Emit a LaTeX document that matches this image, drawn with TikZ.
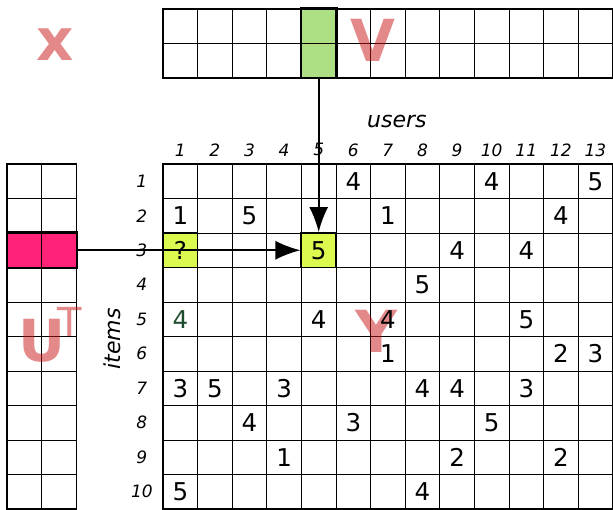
\documentclass[tikz,border=0pt]{standalone}
\usepackage{fontspec}
\setmainfont{DejaVu Sans}
\usetikzlibrary{arrows.meta}
\definecolor{pinkrow}{HTML}{FF2277}
\definecolor{greencol}{HTML}{ADDF85}
\definecolor{lime}{HTML}{DAFA4F}
\definecolor{letterred}{HTML}{C81414}
\definecolor{darkgreen}{HTML}{1E4A2E}
\tikzset{
  cellline/.style={line width=0.9pt, draw=black},
  frame/.style={line width=1.6pt, draw=black},
  rating/.style={font=\fontsize{24.5}{24.5}\selectfont, inner sep=0pt},
  index/.style={font=\fontsize{17}{17}\selectfont\itshape, inner sep=0pt},
  axis/.style={font=\fontsize{22}{22}\selectfont\itshape, inner sep=0pt},
  factor/.style={font=\fontsize{58}{58}\selectfont\bfseries, text=letterred, text opacity=0.5, inner sep=0pt},
  pick/.style={rating, draw=black, line width=1.8pt, fill=lime, minimum width=34.6pt, minimum height=34.5pt},
  arrow/.style={-{Latex[length=25pt,width=19pt]}, line width=2pt}
}
\begin{document}
\begin{tikzpicture}[x=34.6pt, y=-34.5pt]
\useasboundingbox (-4.711,-4.754) rectangle (13.006,10);
\clip (-4.711,-4.754) rectangle (13.006,10);

% factor matrix V (top)
\node[frame, fill=greencol, minimum width=34.6pt, minimum height=69pt, inner sep=0pt] (vcol) at (4.5,-3.5) {};
\foreach \i in {1,...,12} \draw[cellline] (\i,-4.5) -- (\i,-2.5);
\draw[cellline] (0,-3.5) -- (13,-3.5);
\draw[frame] (0,-4.5) rectangle (13,-2.5);
\draw[frame] (vcol.north west) rectangle (vcol.south east);

% factor matrix U^T (left)
\node[frame, fill=pinkrow, minimum width=69.2pt, minimum height=34.5pt, inner sep=0pt] (urow) at (-3.5,2.5) {};
\foreach \j in {1,...,9} \draw[cellline] (-4.5,\j) -- (-2.5,\j);
\draw[cellline] (-3.5,0) -- (-3.5,10);
\draw[frame] (-4.5,0) rectangle (-2.5,10);
\draw[frame] (urow.north west) rectangle (urow.south east);

% rating matrix Y
\foreach \i in {1,...,12} \draw[cellline] (\i,0) -- (\i,10);
\foreach \j in {1,...,9} \draw[cellline] (0,\j) -- (13,\j);
\draw[frame] (0,10) -- (0,0) -- (13,0) -- (13,10) -- cycle;

% indices
\foreach \c in {1,...,13} \node[index] (col\c) at (\c-0.5,-0.41) {\c};
\foreach \r in {1,...,10} \node[index] (row\r) at (-0.61,\r-0.5) {\r};
\node[axis] (users) at (6.76,-1.22) {users};
\node[axis, rotate=90] (items) at (-1.47,5.07) {items};

% big letters
\node[factor] (xlabel) at (-3.12,-3.45) {x};
\node[factor] (vlabel) at (6.08,-3.57) {V};
\node[factor] (ulabel) at (-3.5,5.12) {U};
\node[factor, font=\fontsize{40}{40}\selectfont] (tlabel) at (-2.69,4.58) {T};
\node[factor] (ylabel) at (6.18,4.84) {Y};

% known ratings
\foreach \r/\c/\v in {1/6/4, 1/10/4, 1/13/5,
    2/1/1, 2/3/5, 2/7/1, 2/12/4,
    3/9/4, 3/11/4,
    4/8/5,
    5/5/4, 5/7/4, 5/11/5,
    6/7/1, 6/12/2, 6/13/3,
    7/1/3, 7/2/5, 7/4/3, 7/8/4, 7/9/4, 7/11/3,
    8/3/4, 8/6/3, 8/10/5,
    9/4/1, 9/9/2, 9/12/2,
    10/1/5, 10/8/4}
  \node[rating] (r\r-\c) at (\c-0.5,\r-0.5) {\v};
\node[rating, text=darkgreen] (r5-1) at (0.5,4.5) {4};

% predicted and used cells
\node[pick] (query) at (0.5,2.5) {?};
\node[pick] (hit) at (4.5,2.5) {5};

\draw[arrow] (urow.east) -- (hit.west);
\draw[arrow] (vcol.south) -- (hit.north);
\end{tikzpicture}
\end{document}
